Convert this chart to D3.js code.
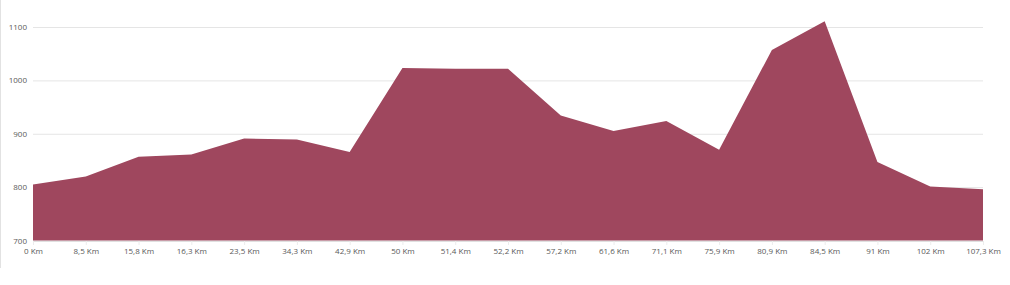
<!DOCTYPE html>
<html>
<head>
<meta charset="utf-8">
<script src="https://cdn.jsdelivr.net/npm/d3@7"></script>
<style>
  body { margin: 0; background: #fff; }
  .tick text { font-family: "Open Sans", sans-serif; font-size: 8px; fill: #595959; }
</style>
</head>
<body>
<div id="viz"></div>
<script>
// elevation profile data
var distances = ["0 Km", "8,5 Km", "15,8 Km", "16,3 Km", "23,5 Km", "34,3 Km", "42,9 Km", "50 Km",
  "51,4 Km", "52,2 Km", "57,2 Km", "61,6 Km", "71,1 Km", "75,9 Km", "80,9 Km", "84,5 Km",
  "91 Km", "102 Km", "107,3 Km"];
var elevations = [805, 820, 857, 861, 891, 889, 866, 1023, 1022, 1022, 934, 905, 924, 870, 1057, 1111,
  847, 801, 796];
var yTicks = [700, 800, 900, 1000, 1100];

var margin = { top: 27, right: 27, bottom: 44, left: 33 },
  width = 1010 - margin.left - margin.right,
  height = 285 - margin.top - margin.bottom;

var data = distances.map(function (d, i) { return { km: d, elev: elevations[i] }; });

var xScale = d3.scalePoint().domain(distances).range([0, width]);
var yScale = d3.scaleLinear().domain([700, 1100]).range([height - 0.5, 0]);

var svg = d3.select("#viz").append("svg")
  .attr("width", 1010)
  .attr("height", 285);

svg.append("line")
  .attr("x1", 0.5).attr("x2", 0.5).attr("y1", 0).attr("y2", 268)
  .style("stroke", "#e2e2e2");

var g = svg.append("g")
  .attr("transform", "translate(" + margin.left + "," + margin.top + ")");

// y grid + labels
var yAxis = d3.axisLeft(yScale).tickValues(yTicks).tickSize(-width).tickPadding(6).tickFormat(d3.format("d"));
g.append("g")
  .attr("class", "y axis")
  .call(yAxis)
  .call(function (s) {
    s.select(".domain").remove();
    s.selectAll(".tick line").style("stroke", "#e5e5e5");
  });

// area
var area = d3.area()
  .x(function (d) { return xScale(d.km); })
  .y0(yScale(700))
  .y1(function (d) { return yScale(d.elev); });

g.append("path")
  .datum(data)
  .attr("d", area)
  .style("fill", "#9f475e");

// x axis
var xAxis = d3.axisBottom(xScale).tickSize(4).tickPadding(3);
g.append("g")
  .attr("class", "x axis")
  .attr("transform", "translate(0," + height + ")")
  .call(xAxis)
  .call(function (s) {
    s.select(".domain").style("stroke", "#e0e0e0");
    s.selectAll(".tick line").style("stroke", "#ececec");
  });
</script>
</body>
</html>
